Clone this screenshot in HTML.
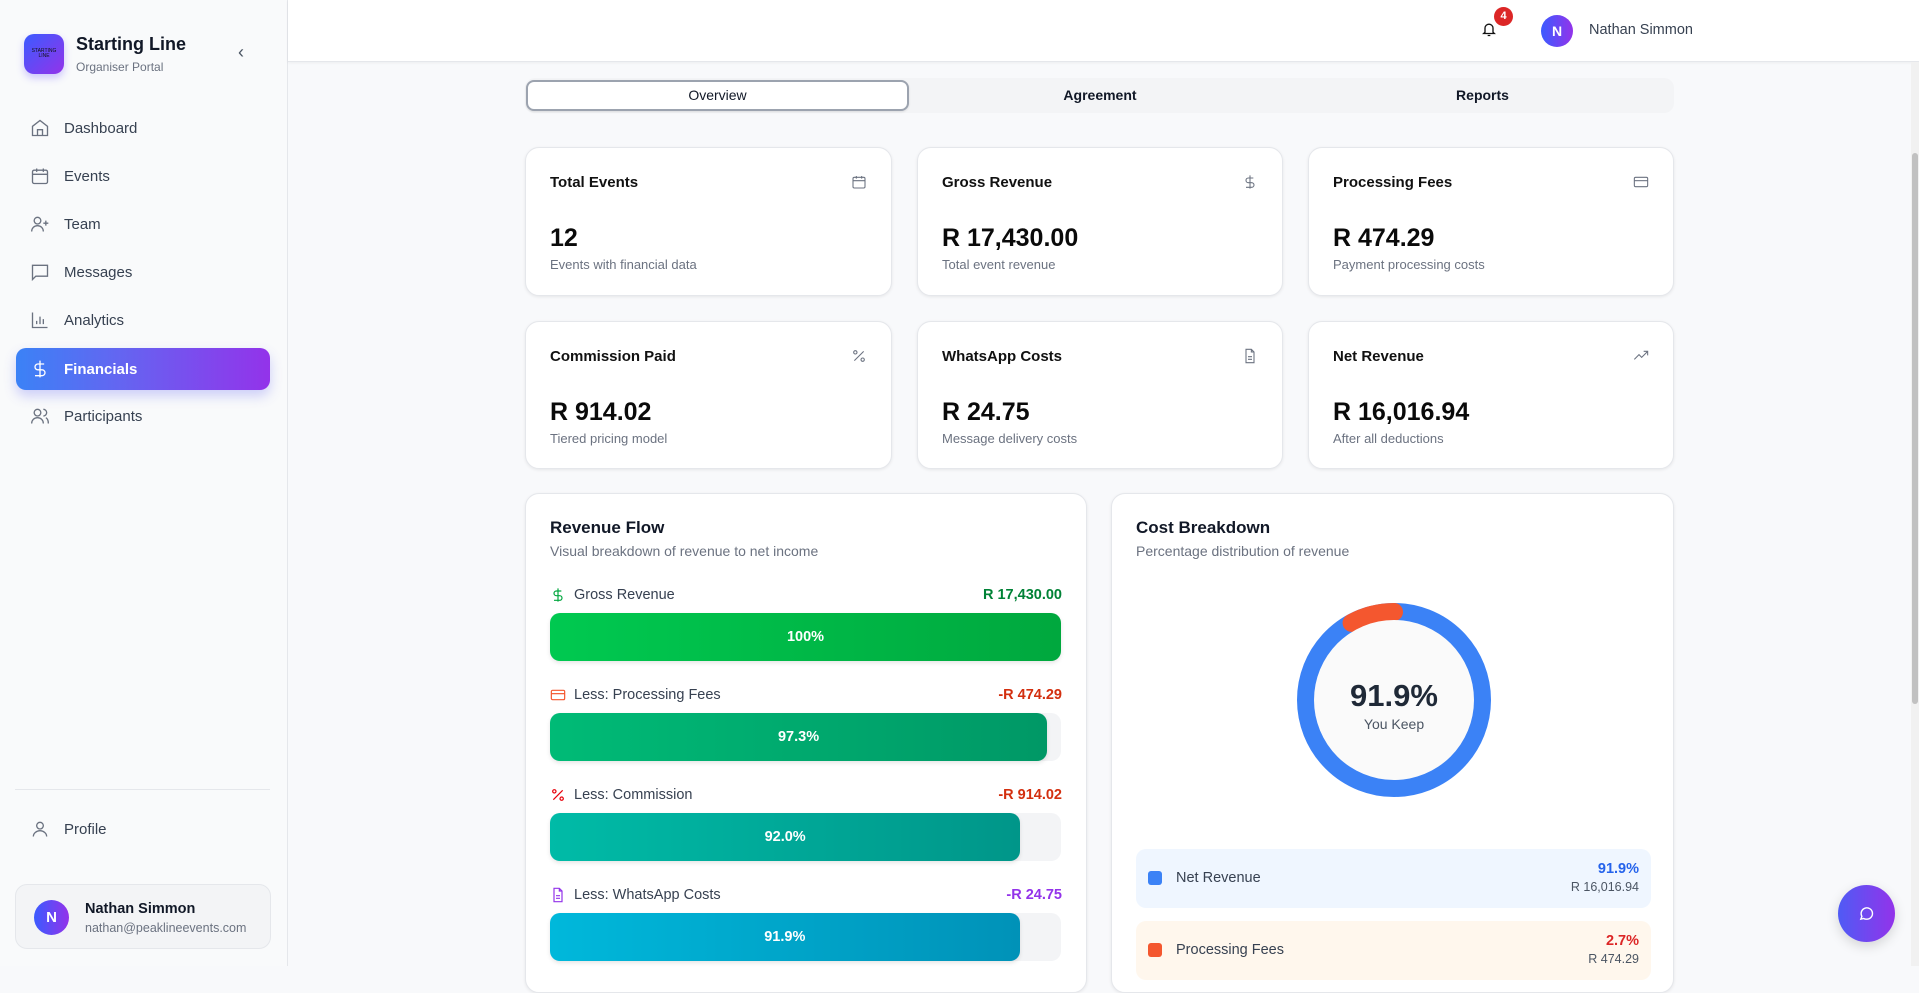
<!DOCTYPE html>
<html><head><meta charset="utf-8"><style>
*{box-sizing:border-box;margin:0;padding:0}
body{width:1919px;height:966px;overflow:hidden;background:#f8f9fb;font-family:"Liberation Sans",sans-serif;color:#111827;position:relative}
.abs{position:absolute}
.sidebar{left:0;top:0;width:288px;height:966px;background:#f9fafb;border-right:1px solid #e5e7eb}
.nav{position:absolute;left:16px;width:254px;height:42px;display:flex;align-items:center;padding-left:14px;font-size:15px;color:#374151}
.nav svg{width:20px;height:20px;margin-right:14px;stroke:#6b7280;fill:none;stroke-width:1.6}
.card{position:absolute;background:#fff;border:1px solid #e5e7eb;border-radius:14px;box-shadow:0 1px 3px rgba(0,0,0,.08)}
.ct{position:absolute;left:24px;top:26px;font-size:15px;font-weight:bold;color:#111}
.cv{position:absolute;left:24px;top:76px;font-size:25px;font-weight:bold;color:#0a0a0a}
.cs{position:absolute;left:24px;top:109px;font-size:13px;color:#6b7280}
.ci{position:absolute;right:24px;top:26px;width:16px;height:16px;stroke:#6b7280;fill:none;stroke-width:1.6}
.rl{position:absolute;left:24px;font-size:14.5px;color:#374151;display:flex;align-items:center}
.rl svg{width:16px;height:16px;margin-right:8px;fill:none;stroke-width:1.8}
.rv{position:absolute;right:24px;font-size:14.5px;font-weight:bold}
.track{position:absolute;left:24px;width:511px;height:48px;background:#f3f4f6;border-radius:10px}
.bar{position:absolute;left:0;top:0;height:48px;border-radius:10px;color:#fff;font-weight:bold;font-size:14.5px;display:flex;align-items:center;justify-content:center;box-shadow:0 2px 4px rgba(0,0,0,.1)}
</style></head><body>
<div class="abs sidebar">
  <div class="abs" style="left:24px;top:34px;width:40px;height:40px;border-radius:10px;background:linear-gradient(135deg,#3b5bff,#9333ea);box-shadow:0 4px 8px rgba(100,80,255,.3);font-size:5px;color:#111;text-align:center;padding-top:15px;line-height:5px">STARTING<br>LINE</div>
  <div class="abs" style="left:76px;top:34px;font-size:18px;font-weight:bold">Starting Line</div>
  <div class="abs" style="left:76px;top:60px;font-size:12px;color:#6b7280">Organiser Portal</div>
  <div class="abs" style="left:238px;top:42px;font-size:18px;color:#4b5563">‹</div>
  <div class="nav" style="top:107px"><svg viewBox="0 0 24 24"><path d="M3 10l9-7 9 7v11H3z M9 21v-7h6v7"/></svg>Dashboard</div>
  <div class="nav" style="top:155px"><svg viewBox="0 0 24 24"><rect x="3" y="5" width="18" height="16" rx="2"/><path d="M3 10h18M8 3v4M16 3v4"/></svg>Events</div>
  <div class="nav" style="top:203px"><svg viewBox="0 0 24 24"><circle cx="9" cy="8" r="4"/><path d="M2 21c0-4 3-7 7-7s7 3 7 7M19 8v6M16 11h6"/></svg>Team</div>
  <div class="nav" style="top:251px"><svg viewBox="0 0 24 24"><path d="M3 4h18v13H7l-4 4z"/></svg>Messages</div>
  <div class="nav" style="top:299px"><svg viewBox="0 0 24 24"><path d="M3 3v18h18M8 17v-4M12 17V8M16 17v-6"/></svg>Analytics</div>
  <div class="nav" style="top:348px;height:42px;border-radius:10px;background:linear-gradient(90deg,#3b82f6,#6366f1 40%,#9333ea);color:#fff;font-weight:bold;box-shadow:0 6px 12px rgba(99,102,241,.3)"><svg viewBox="0 0 24 24" style="stroke:#fff"><path d="M12 2v20M17 6H9.5a3.5 3.5 0 000 7h5a3.5 3.5 0 010 7H6"/></svg>Financials</div>
  <div class="nav" style="top:395px"><svg viewBox="0 0 24 24"><circle cx="9" cy="8" r="4"/><path d="M2 21c0-4 3-7 7-7s7 3 7 7M16 4a4 4 0 010 8M19 14c2 1 3 4 3 7"/></svg>Participants</div>
  <div class="abs" style="left:15px;top:789px;width:255px;height:1px;background:#e5e7eb"></div>
  <div class="nav" style="top:808px"><svg viewBox="0 0 24 24"><circle cx="12" cy="8" r="4"/><path d="M4 21c0-4 4-7 8-7s8 3 8 7"/></svg>Profile</div>
  <div class="abs" style="left:15px;top:884px;width:256px;height:65px;border:1px solid #e5e7eb;border-radius:12px;background:#f3f4f6">
    <div class="abs" style="left:18px;top:15px;width:35px;height:35px;border-radius:50%;background:linear-gradient(90deg,#3b5bff,#9333ea);color:#fff;font-weight:bold;font-size:15px;text-align:center;line-height:35px">N</div>
    <div class="abs" style="left:69px;top:16px;font-size:14.5px;font-weight:bold">Nathan Simmon</div>
    <div class="abs" style="left:69px;top:36px;font-size:12.5px;color:#6b7280">nathan@peaklineevents.com</div>
  </div>
</div>
<div class="abs" style="left:288px;top:0;width:1631px;height:62px;background:#fff;border-bottom:1px solid #e5e7eb;box-shadow:0 1px 3px rgba(0,0,0,.05)">
  <svg class="abs" style="left:1193px;top:21px" width="16" height="17" viewBox="0 0 24 24" fill="none" stroke="#111" stroke-width="2"><path d="M6 16V10a6 6 0 0112 0v6l2 2H4zM10 21h4"/></svg>
  <div class="abs" style="left:1206px;top:7px;width:19px;height:19px;border-radius:50%;background:#dc2626;color:#fff;font-size:11px;font-weight:bold;text-align:center;line-height:19px">4</div>
  <div class="abs" style="left:1253px;top:15px;width:32px;height:32px;border-radius:50%;background:linear-gradient(90deg,#3b5bff,#9333ea);color:#fff;font-weight:bold;font-size:14px;text-align:center;line-height:32px">N</div>
  <div class="abs" style="left:1301px;top:22px;font-size:14.5px;color:#374151">Nathan Simmon</div>
</div>
<div class="abs" style="left:1911px;top:62px;width:8px;height:904px;background:#f1f1f1"><div style="position:absolute;left:1px;top:91px;width:6px;height:551px;border-radius:3px;background:#c1c1c1"></div></div>

<div class="abs" style="left:525px;top:78px;width:1149px;height:35px;background:#f3f4f6;border-radius:10px">
  <div class="abs" style="left:1px;top:2px;width:383px;height:31px;background:#fff;border:2px solid #9ca3af;border-radius:8px;text-align:center;line-height:27px;font-size:14px;box-shadow:0 1px 2px rgba(0,0,0,.1)">Overview</div>
  <div class="abs" style="left:384px;top:0;width:382px;height:35px;text-align:center;line-height:35px;font-size:14px;font-weight:bold">Agreement</div>
  <div class="abs" style="left:766px;top:0;width:383px;height:35px;text-align:center;line-height:35px;font-size:14px;font-weight:bold">Reports</div>
</div>

<div class="card" style="left:525px;top:147px;width:367px;height:149px"><div class="ct">Total Events</div><svg class="ci" viewBox="0 0 24 24"><rect x="3" y="5" width="18" height="16" rx="2"/><path d="M3 10h18M8 3v4M16 3v4"/></svg><div class="cv">12</div><div class="cs">Events with financial data</div></div>
<div class="card" style="left:917px;top:147px;width:366px;height:149px"><div class="ct">Gross Revenue</div><svg class="ci" viewBox="0 0 24 24"><path d="M12 2v20M17 6H9.5a3.5 3.5 0 000 7h5a3.5 3.5 0 010 7H6"/></svg><div class="cv">R 17,430.00</div><div class="cs">Total event revenue</div></div>
<div class="card" style="left:1308px;top:147px;width:366px;height:149px"><div class="ct">Processing Fees</div><svg class="ci" viewBox="0 0 24 24"><rect x="2" y="5" width="20" height="14" rx="2"/><path d="M2 10h20"/></svg><div class="cv">R 474.29</div><div class="cs">Payment processing costs</div></div>
<div class="card" style="left:525px;top:321px;width:367px;height:148px"><div class="ct">Commission Paid</div><svg class="ci" viewBox="0 0 24 24"><path d="M19 5L5 19"/><circle cx="6.5" cy="6.5" r="2.5"/><circle cx="17.5" cy="17.5" r="2.5"/></svg><div class="cv">R 914.02</div><div class="cs">Tiered pricing model</div></div>
<div class="card" style="left:917px;top:321px;width:366px;height:148px"><div class="ct">WhatsApp Costs</div><svg class="ci" viewBox="0 0 24 24"><path d="M14 2H6v20h12V6zM14 2v4h4M9 13h6M9 17h6"/></svg><div class="cv">R 24.75</div><div class="cs">Message delivery costs</div></div>
<div class="card" style="left:1308px;top:321px;width:366px;height:148px"><div class="ct">Net Revenue</div><svg class="ci" viewBox="0 0 24 24"><path d="M2 17l7-7 4 4 9-9M16 5h6v6"/></svg><div class="cv">R 16,016.94</div><div class="cs">After all deductions</div></div>

<div class="card" id="flow" style="left:525px;top:493px;width:562px;height:500px">
  <div class="abs" style="left:24px;top:24px;font-size:17px;font-weight:bold">Revenue Flow</div>
  <div class="abs" style="left:24px;top:49px;font-size:14px;color:#6b7280">Visual breakdown of revenue to net income</div>
</div>

<div class="card" style="left:1111px;top:493px;width:563px;height:500px">
  <div class="abs" style="left:24px;top:24px;font-size:17px;font-weight:bold">Cost Breakdown</div>
  <div class="abs" style="left:24px;top:49px;font-size:14px;color:#6b7280">Percentage distribution of revenue</div>
  <svg id="donut" class="abs" style="left:167px;top:91px" width="230" height="230" viewBox="0 0 230 230">
    <circle cx="115" cy="115" r="80" fill="#fafafa"/>
    <text x="115" y="121" text-anchor="middle" font-size="31" font-weight="bold" fill="#1f2937" font-family="Liberation Sans">91.9%</text>
    <text x="115" y="144" text-anchor="middle" font-size="14" fill="#4b5563" font-family="Liberation Sans">You Keep</text>
  </svg>
  <div class="abs" style="left:24px;top:355px;width:515px;height:59px;background:#eff6ff;border-radius:10px">
    <div class="abs" style="left:12px;top:22px;width:14px;height:14px;border-radius:3px;background:#3b82f6"></div>
    <div class="abs" style="left:40px;top:21px;font-size:14.5px;color:#374151">Net Revenue</div>
    <div class="abs" style="right:12px;top:12px;font-size:14.5px;font-weight:bold;color:#2563eb">91.9%</div>
    <div class="abs" style="right:12px;top:31px;font-size:12.5px;color:#4b5563">R 16,016.94</div>
  </div>
  <div class="abs" style="left:24px;top:427px;width:515px;height:59px;background:#fff7ed;border-radius:10px">
    <div class="abs" style="left:12px;top:22px;width:14px;height:14px;border-radius:3px;background:#f4572f"></div>
    <div class="abs" style="left:40px;top:21px;font-size:14.5px;color:#374151">Processing Fees</div>
    <div class="abs" style="right:12px;top:12px;font-size:14.5px;font-weight:bold;color:#dc2626">2.7%</div>
    <div class="abs" style="right:12px;top:31px;font-size:12.5px;color:#4b5563">R 474.29</div>
  </div>
</div>

<div class="abs" style="left:1838px;top:885px;width:57px;height:57px;border-radius:50%;background:linear-gradient(90deg,#4f5bf5,#9333ea);box-shadow:0 4px 12px rgba(0,0,0,.15)">
  <svg class="abs" style="left:20px;top:20px" width="17" height="17" viewBox="0 0 24 24" fill="none" stroke="#fff" stroke-width="2"><path d="M4 20l1.5-4A8 8 0 1112 20a8 8 0 01-4-1z"/></svg>
</div>

<script>
const flowLabels = ["Gross Revenue","Less: Processing Fees","Less: Commission","Less: WhatsApp Costs"];
const flowAmounts = [17430.00, -474.29, -914.02, -24.75];
const flowPctLabels = ["100%","97.3%","92.0%","91.9%"];
const flowValueLabels = ["R 17,430.00","-R 474.29","-R 914.02","-R 24.75"];
const donutLabels = ["Net Revenue","Processing Fees","Commission","WhatsApp"];
const donutValues = [91.9, 2.7, 5.2, 0.1];

const flow = document.getElementById('flow');
const styles = [
 {g:"linear-gradient(90deg,#00c950,#00a83e)",vc:"#008236",ic:"#00a63e",icon:'<path d="M12 2v20M17 6H9.5a3.5 3.5 0 000 7h5a3.5 3.5 0 010 7H6"/>'},
 {g:"linear-gradient(90deg,#00bb76,#009866)",vc:"#d32f0f",ic:"#f4572f",icon:'<rect x="2" y="5" width="20" height="14" rx="2"/><path d="M2 10h20"/>'},
 {g:"linear-gradient(90deg,#00bba7,#009689)",vc:"#d32f0f",ic:"#e7000b",icon:'<path d="M19 5L5 19"/><circle cx="6.5" cy="6.5" r="2.5"/><circle cx="17.5" cy="17.5" r="2.5"/>'},
 {g:"linear-gradient(90deg,#00b8db,#0092b8)",vc:"#9333ea",ic:"#9333ea",icon:'<path d="M14 2H6v20h12V6zM14 2v4h4M9 13h6M9 17h6"/>'}
];
let running = 0;
const gross = flowAmounts[0];
const trackW = 511;
function xScale(v){ return v / gross * trackW; }
flowLabels.forEach((lab,i)=>{
  running += flowAmounts[i];
  const top = 101 + i*100;
  const st = styles[i];
  const l = document.createElement('div');
  l.className='rl'; l.style.top=(top-8)+'px';
  l.innerHTML='<svg viewBox="0 0 24 24" stroke="'+st.ic+'">'+st.icon+'</svg>'+lab;
  
  
  flow.appendChild(l);
  const v = document.createElement('div');
  v.className='rv'; v.style.top=(top-8)+'px'; v.style.color=st.vc; v.textContent=flowValueLabels[i];
  
  
  flow.appendChild(v);
  const t = document.createElement('div');
  t.className='track'; t.style.top=(top+18)+'px';
  
  
  const b = document.createElement('div');
  b.className='bar'; b.style.width=xScale(running)+'px'; b.style.background=st.g; b.textContent=flowPctLabels[i];
  
  
  t.appendChild(b); flow.appendChild(t);
});

const svg = document.getElementById('donut');
const NS='http://www.w3.org/2000/svg';
const cx=115, cy=115, r=88, sw=18;
const total = donutValues.reduce((a,b)=>a+b,0);
function ang(p){ return p/total*2*Math.PI; }
function pt(a){ return [cx + r*Math.sin(a), cy - r*Math.cos(a)]; }
const base = document.createElementNS(NS,'circle');
base.setAttribute('cx',cx); base.setAttribute('cy',cy); base.setAttribute('r',r);
base.setAttribute('fill','none'); base.setAttribute('stroke','#3b82f6'); base.setAttribute('stroke-width',sw);


svg.insertBefore(base, svg.firstChild);
let costs = donutValues.slice(1).reduce((a,b)=>a+b,0);
const a0 = -ang(costs), a1 = 0;
const p0 = pt(a0), p1 = pt(a1);
const arc = document.createElementNS(NS,'path');
arc.setAttribute('d','M'+p0[0]+' '+p0[1]+' A'+r+' '+r+' 0 0 1 '+p1[0]+' '+p1[1]);
arc.setAttribute('fill','none'); arc.setAttribute('stroke','#f4572f'); arc.setAttribute('stroke-width',sw); arc.setAttribute('stroke-linecap','round');


svg.insertBefore(arc, svg.childNodes[1]);
</script>
</body></html>
